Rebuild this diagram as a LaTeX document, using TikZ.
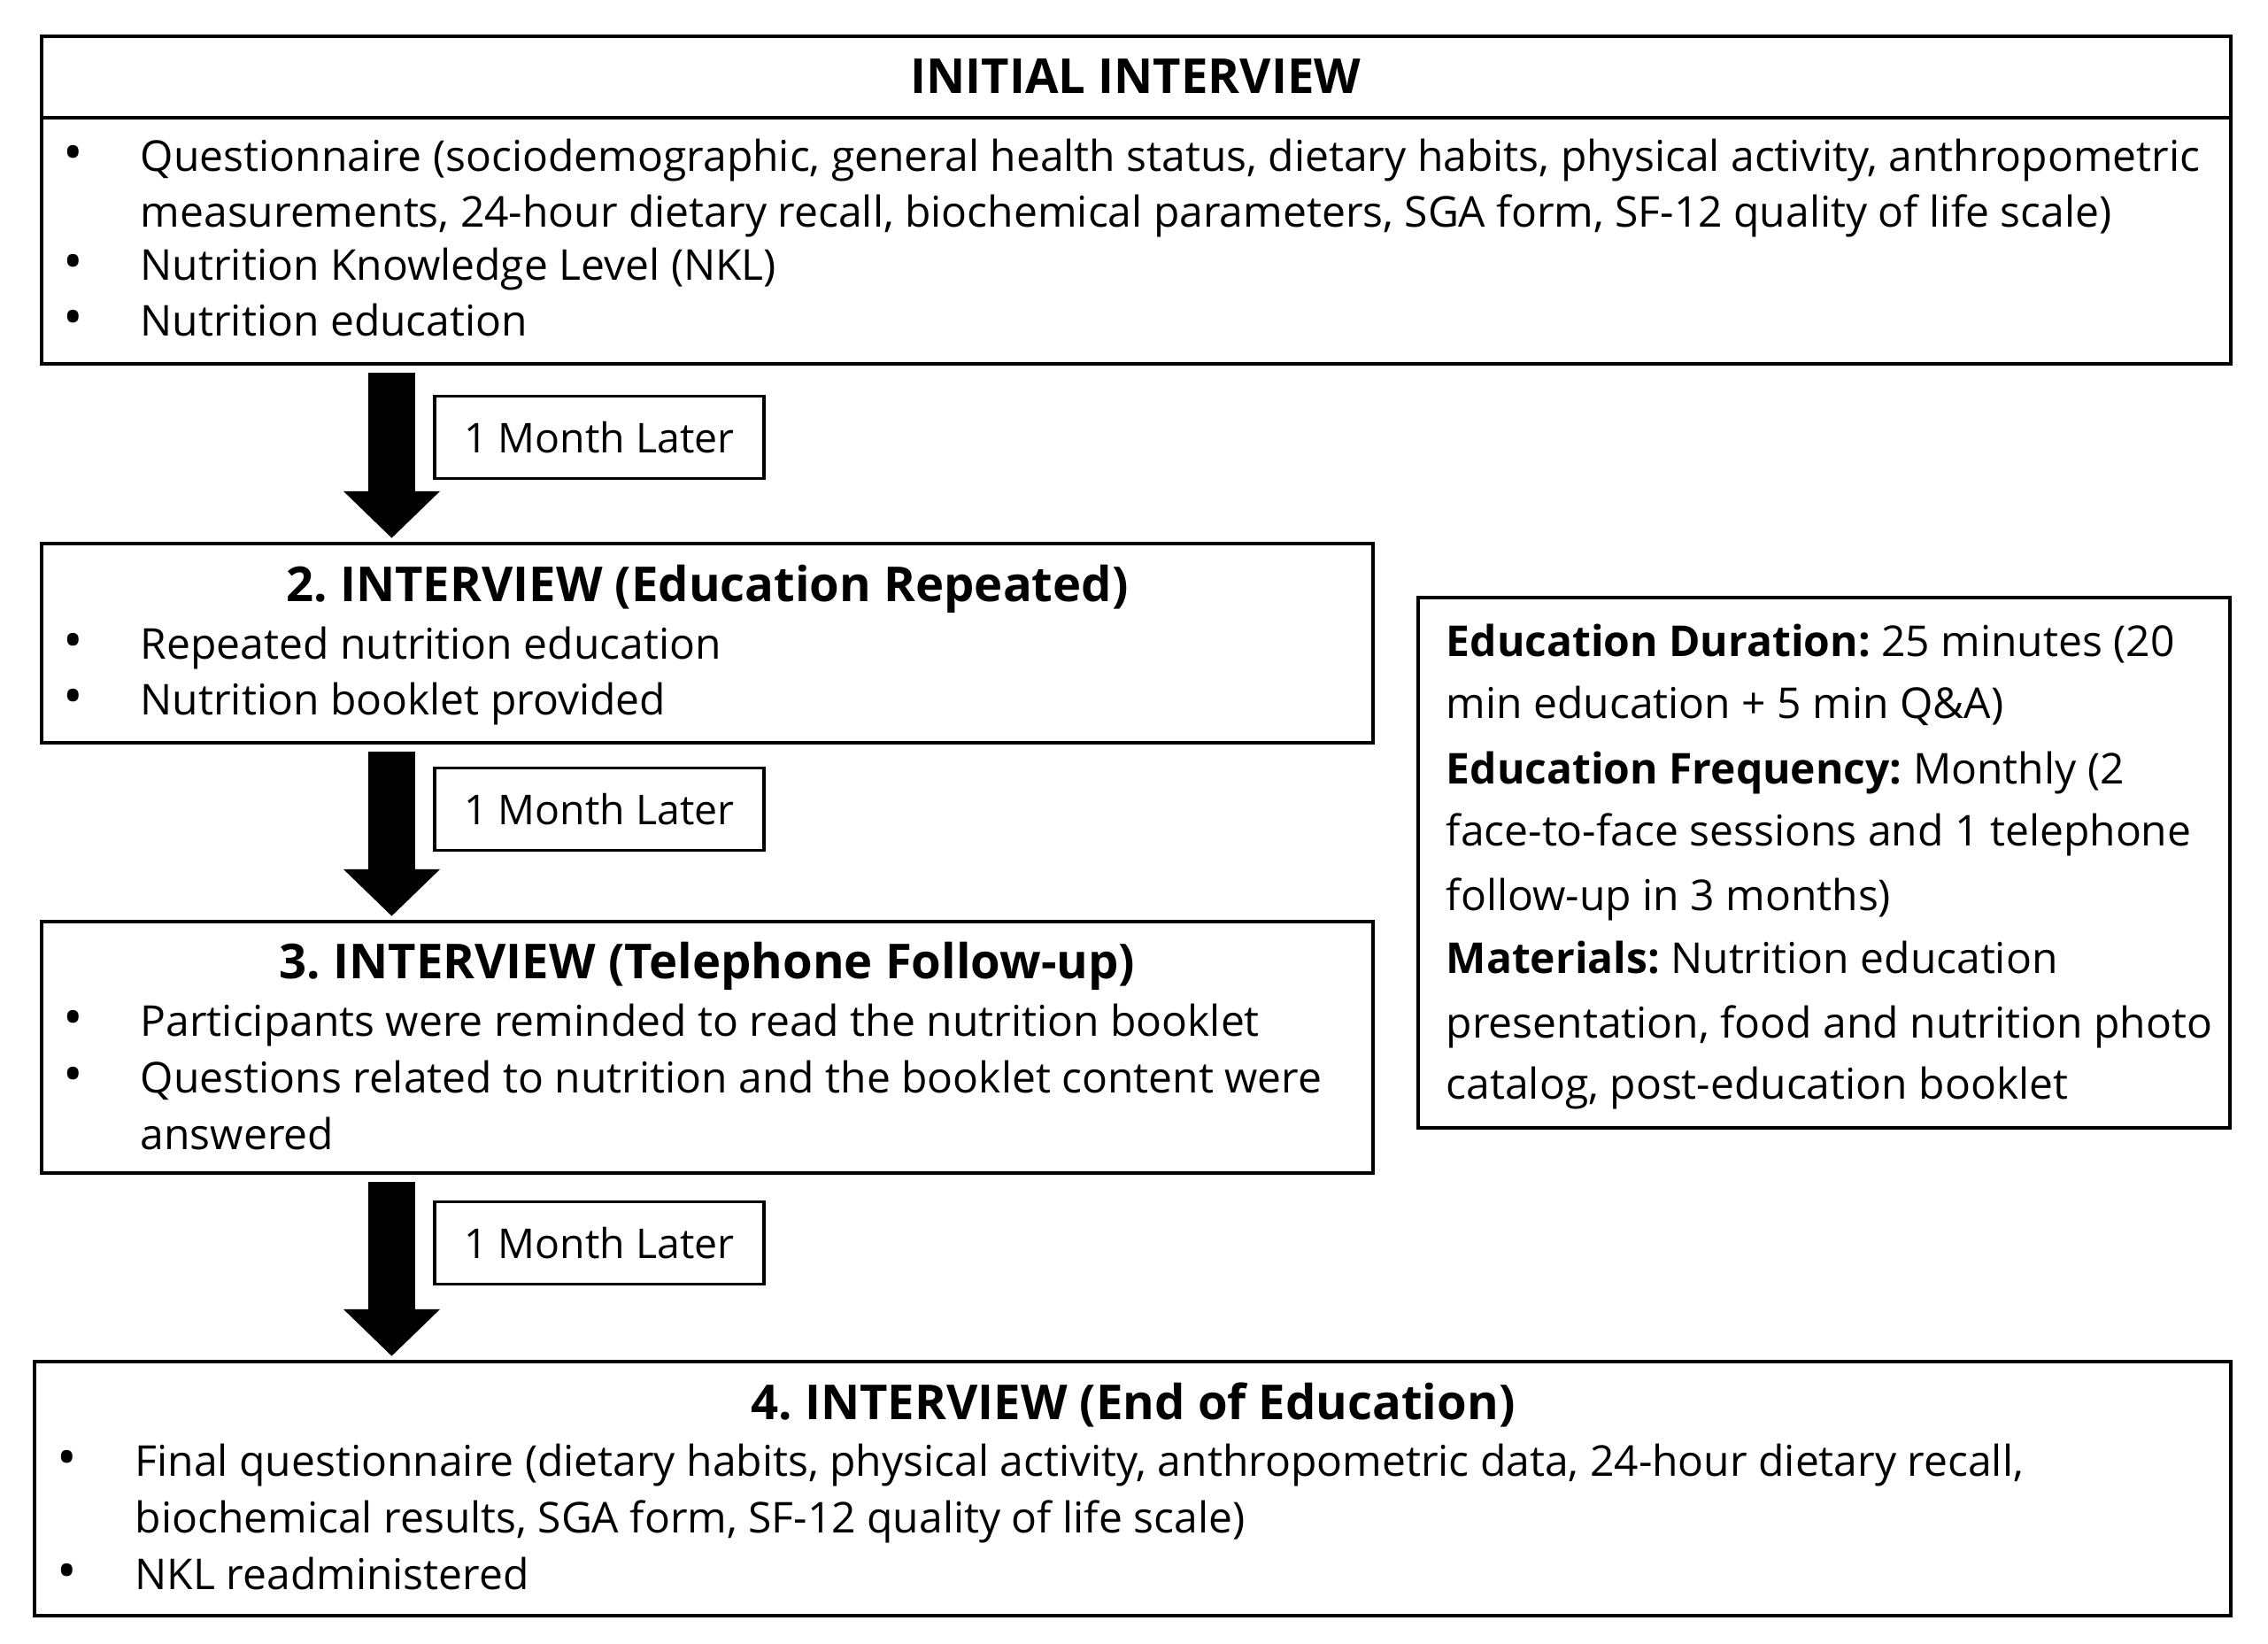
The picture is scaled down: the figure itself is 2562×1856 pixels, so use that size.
\documentclass[tikz,border=0pt]{standalone}
\usepackage{fontspec}
\setmainfont{Open Sans}
\usetikzlibrary{arrows.meta,fit}
\frenchspacing
\begin{document}
\frenchspacing
\begin{tikzpicture}[x=0.25pt,y=-0.25pt,
  box/.style={draw, line width=1.1pt, inner sep=0pt},
  lbl/.style={draw, line width=0.9pt, inner sep=0pt, minimum width=93pt, minimum height=23.25pt, font=\fontsize{11.6}{14}\selectfont},
  tx/.style={anchor=base west, inner sep=0pt, font=\fontsize{12}{14}\selectfont},
  bul/.style={anchor=base, inner sep=0pt, font=\fontsize{15}{14}\selectfont},
  ttl/.style={anchor=base, inner sep=0pt, font=\fontsize{13.6}{15}\selectfont\bfseries},
  bigarrow/.style={line width=13.25pt, draw=black, -{Triangle[width=26.5pt,length=13.25pt]}, shorten >=1pt, shorten <=2pt}]
\useasboundingbox (0,0) rectangle (2562,1856);

% boxes
\node[box, fit={(47,41) (2520,411)}] (b1) {};
\node[box, fit={(47,614) (1551,839)}] (b2) {};
\node[box, fit={(47,1041) (1551,1325)}] (b3) {};
\node[box, fit={(39,1538) (2520,1825)}] (b4) {};
\node[box, line width=0.9pt, fit={(1602,675) (2519,1274)}] (b5) {};
\coordinate (sepy) at (0,133);
\draw[line width=1.1pt] (b1.west |- sepy) -- (b1.east |- sepy);

% box 1
\node[ttl] (t1) at (1283,105) {INITIAL INTERVIEW};
\node[bul] (b1u1) at (83,193) {•};
\node[tx] (b1l1) at (158,193) {Questionnaire (sociodemographic, general health status, dietary habits, physical activity, anthropometric};
\node[tx] (b1l2) at (158,256) {measurements, 24-hour dietary recall, biochemical parameters, SGA form, SF-12 quality of life scale)};
\node[bul] (b1u2) at (83,316) {•};
\node[tx] (b1l3) at (158,316) {Nutrition Knowledge Level (NKL)};
\node[bul] (b1u3) at (83,379) {•};
\node[tx] (b1l4) at (158,379) {Nutrition education};

% box 2
\node[ttl] (t2) at (799,679) {2. INTERVIEW (Education Repeated)};
\node[bul] (b2u1) at (83,744) {•};
\node[tx] (b2l1) at (158,744) {Repeated nutrition education};
\node[bul] (b2u2) at (83,807) {•};
\node[tx] (b2l2) at (158,807) {Nutrition booklet provided};

% box 3
\node[ttl] (t3) at (799,1105) {3. INTERVIEW (Telephone Follow-up)};
\node[bul] (b3u1) at (83,1170) {•};
\node[tx] (b3l1) at (158,1170) {Participants were reminded to read the nutrition booklet};
\node[bul] (b3u2) at (83,1234) {•};
\node[tx] (b3l2) at (158,1234) {Questions related to nutrition and the booklet content were};
\node[tx] (b3l3) at (158,1298) {answered};

% box 4
\node[ttl] (t4) at (1280,1603) {4. INTERVIEW (End of Education)};
\node[bul] (b4u1) at (76,1667) {•};
\node[tx] (b4l1) at (152,1667) {Final questionnaire (dietary habits, physical activity, anthropometric data, 24-hour dietary recall,};
\node[tx] (b4l2) at (152,1731) {biochemical results, SGA form, SF-12 quality of life scale)};
\node[bul] (b4u2) at (76,1795) {•};
\node[tx] (b4l3) at (152,1795) {NKL readministered};

% right box
\node[tx] (r1) at (1633,741) {\textbf{Education Duration:} 25 minutes (20};
\node[tx] (r2) at (1633,811) {min education + 5 min Q\&A)};
\node[tx] (r3) at (1633,885) {\textbf{Education Frequency:} Monthly (2};
\node[tx] (r4) at (1633,955) {face-to-face sessions and 1 telephone};
\node[tx] (r5) at (1633,1028) {follow-up in 3 months)};
\node[tx] (r6) at (1633,1099) {\textbf{Materials:} Nutrition education};
\node[tx] (r7) at (1633,1172) {presentation, food and nutrition photo};
\node[tx] (r8) at (1633,1241) {catalog, post-education booklet};

% arrows
\coordinate (ax) at (442.5,0);
\draw[bigarrow] (b1.south -| ax) -- (b2.north -| ax);
\draw[bigarrow] (b2.south -| ax) -- (b3.north -| ax);
\draw[bigarrow] (b3.south -| ax) -- (b4.north -| ax);

% labels
\node[lbl] (m1) at (677,494) {1 Month Later};
\node[lbl] (m2) at (677,914) {1 Month Later};
\node[lbl] (m3) at (677,1404) {1 Month Later};
\end{tikzpicture}
\end{document}
